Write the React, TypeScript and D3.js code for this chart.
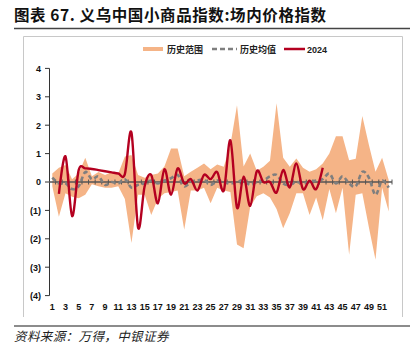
import React from "react";
import * as d3 from "d3";

// weeks 1..52
const weeks = [
  1, 2, 3, 4, 5, 6, 7, 8, 9, 10, 11, 12, 13, 14, 15, 16, 17, 18, 19, 20, 21, 22, 23, 24, 25, 26,
  27, 28, 29, 30, 31, 32, 33, 34, 35, 36, 37, 38, 39, 40, 41, 42, 43, 44, 45, 46, 47, 48, 49, 50, 51, 52,
];
const xLabels = [1, 3, 5, 7, 9, 11, 13, 15, 17, 19, 21, 23, 25, 27, 29, 31, 33, 35, 37, 39, 41, 43, 45, 47, 49, 51];
const yTicks = [4, 3, 2, 1, 0, -1, -2, -3, -4];

// 历史范围 upper / lower
const rangeHigh = [
  0.3, 0.5, 0.6, 0.1, 0.3, 0.85, 0.2, 0.35, 0.25, 0.35, 0.3, 0.9, 0.95, 0.25, 0.15, 0.25, 0.3, 0.55, 1.18, 1.18,
  0.2, 0.36, 0.5, 0.65, 0.45, 0.62, 0.54, 1.3, 2.7, 0.55, 1.0, 0.4, 0.54, 0.75, 2.77, 0.85, 0.54, 0.83, 0.5, 0.36,
  0.45, 0.65, 1.0, 1.61, 1.61, 0.77, 0.82, 2.32, 1.3, 0.36, 0.85, 0.07,
];
const rangeLow = [
  -0.15, -1.22, -0.4, -0.52, -0.57, -0.45, -0.08, -0.15, -0.2, -0.2, -0.15, -0.6, -2.15, -0.45, -0.45, -1.16, -0.6,
  -0.4, -0.35, -0.3, -1.68, -0.3, -0.3, -0.2, -0.75, -0.2, -0.3, -0.35, -2.2, -2.33, -0.87, -0.5, -0.4, -0.55, -0.95,
  -1.63, -1.1, -0.4, -0.4, -1.16, -0.55, -1.35, -0.25, -1.1, -0.2, -2.56, -0.45, -0.4, -1.6, -2.74, -0.2, -1.04,
];
// 历史均值
const histMean = [
  0.15, -0.05, -0.05, -0.25, -0.15, 0.35, 0.1, 0.2, -0.1, 0.0, -0.05, 0.1, -0.2, -0.1, -0.05, 0.05, -0.05, 0.05,
  0.13, 0.25, -0.15, 0.0, 0.05, 0.08, -0.1, 0.05, 0.0, -0.05, 0.0, 0.05, -0.1, 0.0, 0.05, 0.2, 0.25, -0.05, -0.1,
  0.0, -0.05, 0.0, 0.05, 0.1, 0.3, -0.05, 0.2, -0.05, -0.15, 0.36, 0.15, -0.45, 0.05, -0.2,
];
// 2024
const y2024: (number | null)[] = [
  null, -0.42, 0.9, -1.2, 0.42, 0.48, 0.46, 0.42, 0.38, 0.34, 0.3, 0.28, 1.74, -1.6, -0.15, 0.25, -0.75, 0.45,
  -0.45, 0.48, -0.05, 0.1, -0.3, 0.25, 0.1, 0.35, -0.3, 1.47, -0.9, 0.19, -0.84, 0.38, 0.0, 0.0, -0.37, 0.42,
  -0.19, 0.65, -0.25, 0.05, -0.25, 0.5, null, null, null, null, null, null, null, null, null, null,
];

const W = 410;
const H = 351;
const ORANGE = "#F5B487";
const RED = "#B40020";
const GRAY = "#7F7F7F";

const fmt = (v: number) => (v < 0 ? `(${-v})` : `${v}`);

export default function App() {
  const x = d3.scaleBand<number>().domain(weeks).range([49, 392]);
  const cx = (w: number) => (x(w) as number) + x.bandwidth() / 2;
  const y = d3.scaleLinear().domain([-4, 4]).range([295.6, 68.4]);

  const area = d3
    .area<number>()
    .x((w) => cx(w))
    .y0((w, i) => y(rangeLow[i]))
    .y1((w, i) => y(rangeHigh[i]));

  const meanLine = d3
    .line<number>()
    .x((w) => cx(w))
    .y((w, i) => y(histMean[i]))
    .curve(d3.curveCatmullRom.alpha(0));

  const redLine = d3
    .line<number>()
    .defined((w, i) => y2024[i] !== null)
    .x((w) => cx(w))
    .y((w, i) => y(y2024[i] as number))
    .curve(d3.curveCatmullRom.alpha(0));

  const axisFont = "'Liberation Sans', Arial, sans-serif";
  const cjk = "'Noto Sans CJK SC', sans-serif";

  return (
    <svg width={W} height={H} style={{ position: "absolute", left: 0, top: 0 }}>
      <rect width={W} height={H} fill="#fff" />
      {/* title */}
      <text x={14} y={21} fontFamily={cjk} fontSize={15.5} fontWeight={700} letterSpacing={0.6} fill="#111">
        图表 67. 义乌中国小商品指数:场内价格指数
      </text>
      <line x1={14} x2={410} y1={28.5} y2={28.5} stroke="#444" strokeWidth={1.5} />

      {/* frame */}
      <path d="M23.5,317 V36.5 H402.5 V317" fill="none" stroke="#C8C8C8" strokeWidth={1} />

      {/* legend */}
      <g fontFamily={cjk} fontSize={9} fontWeight={700} fill="#222">
        <line x1={143} x2={163} y1={49} y2={49} stroke={ORANGE} strokeWidth={4} />
        <text x={167} y={52.5}>历史范围</text>
        <line x1={212} x2={237} y1={49} y2={49} stroke={GRAY} strokeWidth={2.5} strokeDasharray="5,3" />
        <text x={240} y={52.5}>历史均值</text>
        <line x1={284} x2={305} y1={49} y2={49} stroke={RED} strokeWidth={2.5} />
        <text x={307} y={52.5} fontFamily={axisFont}>2024</text>
      </g>

      {/* range band */}
      <path d={area(weeks) ?? ""} fill={ORANGE} />

      {/* y axis */}
      <line x1={49.5} x2={49.5} y1={y(4)} y2={y(-4)} stroke="#333" strokeWidth={1} />
      {yTicks.map((t) => (
        <g key={t}>
          <line x1={45} x2={49.5} y1={y(t)} y2={y(t)} stroke="#333" />
          <text
            x={41}
            y={y(t) + 3.3}
            textAnchor="end"
            fontFamily={axisFont}
            fontSize={9}
            fontWeight={700}
            fill="#111"
          >
            {fmt(t)}
          </text>
        </g>
      ))}

      {/* zero axis with category ticks */}
      <line x1={49} x2={392} y1={y(0)} y2={y(0)} stroke="#555" strokeWidth={1.3} />
      {weeks.map((w) => (
        <line
          key={w}
          x1={(x(w) as number) + x.bandwidth()}
          x2={(x(w) as number) + x.bandwidth()}
          y1={y(0) - 2.5}
          y2={y(0) + 2.5}
          stroke="#555"
          strokeWidth={1}
        />
      ))}

      {/* mean line */}
      <path d={meanLine(weeks) ?? ""} fill="none" stroke={GRAY} strokeWidth={2.6} strokeDasharray="4.5,3" />
      {/* 2024 line */}
      <path d={redLine(weeks) ?? ""} fill="none" stroke={RED} strokeWidth={2.4} />

      {/* x labels */}
      {xLabels.map((w) => (
        <text
          key={w}
          x={cx(w)}
          y={310}
          textAnchor="middle"
          fontFamily={axisFont}
          fontSize={9}
          fontWeight={700}
          fill="#111"
        >
          {w}
        </text>
      ))}

      {/* footer */}
      <line x1={14} x2={410} y1={326} y2={326} stroke="#666" strokeWidth={1.5} />
      <text x={14} y={341} fontFamily={cjk} fontSize={12.5} fontStyle="italic" letterSpacing={0.4} fill="#222">
        资料来源：万得，中银证券
      </text>
    </svg>
  );
}
